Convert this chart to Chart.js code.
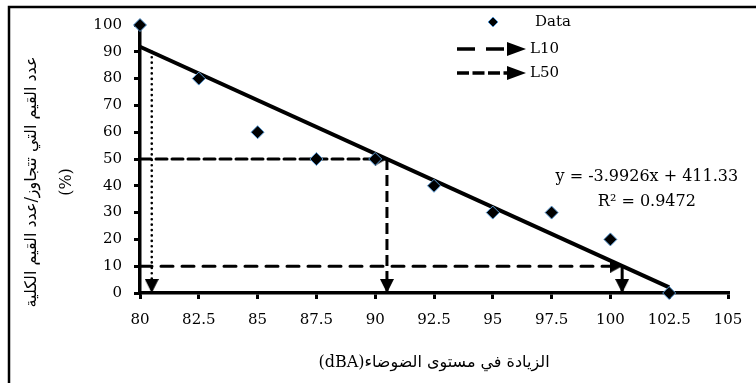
<!DOCTYPE html>
<html><head><meta charset="utf-8">
<script src="https://cdn.jsdelivr.net/npm/chart.js@4.4.1/dist/chart.umd.min.js"></script>
<style>html,body{margin:0;padding:0;background:#fff}#wrap{width:756px;height:383px;position:relative}</style>
</head><body><div id="wrap"><canvas id="c" width="756" height="383"></canvas></div>
<script>
// ---- data ----
const noiseLevels = [80, 82.5, 85, 87.5, 90, 92.5, 95, 97.5, 100, 102.5];
const exceedPercent = [100, 80, 60, 50, 50, 40, 30, 30, 20, 0];
const trendX = [80, 102.5];
const trendY = [91.9, 2.1];
const equationText = 'y = -3.9926x + 411.33';
const r2Text = 'R² = 0.9472';
const L90 = 80.5, L50 = 90.5, L10 = 100.5;
const levelY = { L90: 90, L50: 50, L10: 10 };
const xTickValues = [80, 82.5, 85, 87.5, 90, 92.5, 95, 97.5, 100, 102.5, 105];
const yTickValues = [0, 10, 20, 30, 40, 50, 60, 70, 80, 90, 100];
const seriesLabels = ['Data', 'L10', 'L50'];
const xTitleArabic = 'الزيادة في مستوى الضوضاء';
const xTitleUnit = '(dBA)';
const yTitle = ['عدد القيم التي تتجاوز/عدد القيم الكلية', '(%)'];

const FONT = "'DejaVu Serif', 'DejaVu Sans', serif";
const RTL = t => '\u202B' + t + '\u202C';
const LTR = t => '\u202A' + t + '\u202C';
const xTitle = RTL(xTitleArabic + LTR(xTitleUnit));

// arrow head image: tip at image centre, pointing right at rotation 0
function makeArrow(len, h) {
  const cv = document.createElement('canvas');
  cv.width = len * 2; cv.height = h;
  const g = cv.getContext('2d');
  g.fillStyle = '#000';
  g.beginPath(); g.moveTo(0, 0); g.lineTo(len, h / 2); g.lineTo(0, h); g.closePath(); g.fill();
  return cv;
}
const arrowR = makeArrow(12, 13);
const arrowD = makeArrow(14, 14);

function seg(x1, y1, x2, y2) { return [{x: x1, y: y1}, {x: x2, y: y2}]; }
function guide(label, data, dash, width, rot, arrowImg, cap) {
  return {
    type: 'line', label, data, showLine: true, clip: false,
    borderColor: '#000', borderWidth: width, borderDash: dash, borderCapStyle: cap || 'butt',
    pointRadius: [0, 7], pointHoverRadius: 0, pointStyle: arrowImg, rotation: [0, rot],
    backgroundColor: '#000', order: 3, fill: false, tension: 0
  };
}

const datasets = [
  { type: 'scatter', label: seriesLabels[0],
    data: noiseLevels.map((x, i) => ({x, y: exceedPercent[i]})),
    pointStyle: 'rectRot', pointRadius: 6.5, backgroundColor: '#000', borderColor: '#5b9bd5',
    borderWidth: 1, clip: false, order: 0 },
  { type: 'line', label: 'trend', data: trendX.map((x, i) => ({x, y: trendY[i]})),
    showLine: true, borderColor: '#000', borderWidth: 4, pointRadius: 0, clip: false, order: 1 },
  guide('L90', seg(L90, levelY.L90, L90, 0), [0.1, 5.3], 2.6, 90, arrowD, 'round'),
  guide(seriesLabels[2], seg(80, levelY.L50, L50, levelY.L50), [11, 5], 3, 0, arrowR, 'round'),
  guide('L50v', seg(L50, levelY.L50, L50, 0), [11, 5], 3, 90, arrowD, 'butt'),
  guide(seriesLabels[1], seg(80, levelY.L10, L10, levelY.L10), [12, 9], 3, 0, arrowR, 'round'),
  guide('L10v', seg(L10, levelY.L10, L10, 0), [], 3, 90, arrowD, 'butt')
];

const decor = {
  id: 'decor',
  afterDraw(chart) {
    const ctx = chart.ctx;
    const xs = chart.scales.x, ys = chart.scales.y;
    ctx.save();
    // outer frame
    ctx.strokeStyle = '#000'; ctx.lineWidth = 2.5;
    ctx.strokeRect(9, 7, 800, 420);
    // y title (two rotated lines)
    ctx.fillStyle = '#000';
    ctx.font = '16px ' + FONT;
    ctx.textAlign = 'center'; ctx.textBaseline = 'middle';
    const cy = 182;
    [[32, RTL(yTitle[0])], [67, yTitle[1]]].forEach(([x, t]) => {
      ctx.save(); ctx.translate(x, cy); ctx.rotate(-Math.PI / 2); ctx.fillText(t, 0, 0); ctx.restore();
    });
    // regression equation
    ctx.font = '16px ' + FONT;
    ctx.textAlign = 'center';
    ctx.fillText(equationText, xs.getPixelForValue(101.55), ys.getPixelForValue(43.3));
    ctx.fillText(r2Text, xs.getPixelForValue(101.55), ys.getPixelForValue(34));
    // legend
    ctx.font = '15px ' + FONT;
    ctx.textAlign = 'left';
    ctx.beginPath();
    const dx = 493, dy = 22, r = 5;
    ctx.moveTo(dx, dy - r); ctx.lineTo(dx + r, dy); ctx.lineTo(dx, dy + r); ctx.lineTo(dx - r, dy); ctx.closePath();
    ctx.fillStyle = '#000'; ctx.fill(); ctx.strokeStyle = '#5b9bd5'; ctx.lineWidth = 1; ctx.stroke();
    ctx.fillStyle = '#000';
    ctx.fillText(seriesLabels[0], 535, 22);
    ctx.strokeStyle = '#000'; ctx.lineWidth = 3.5; ctx.lineCap = 'butt';
    ctx.setLineDash([18, 11]);
    ctx.beginPath(); ctx.moveTo(457, 49); ctx.lineTo(508, 49); ctx.stroke();
    ctx.setLineDash([]);
    ctx.beginPath(); ctx.moveTo(507, 42); ctx.lineTo(526, 49); ctx.lineTo(507, 56); ctx.closePath(); ctx.fill();
    ctx.fillText(seriesLabels[1], 530, 49);
    ctx.setLineDash([12, 3.5]);
    ctx.beginPath(); ctx.moveTo(457, 73); ctx.lineTo(510, 73); ctx.stroke();
    ctx.setLineDash([]);
    ctx.beginPath(); ctx.moveTo(507, 66); ctx.lineTo(526, 73); ctx.lineTo(507, 80); ctx.closePath(); ctx.fill();
    ctx.fillText(seriesLabels[2], 530, 73);
    ctx.restore();
  }
};

new Chart(document.getElementById('c'), {
  type: 'scatter',
  data: { datasets },
  plugins: [decor],
  options: {
    responsive: false, animation: false, devicePixelRatio: 1,
    layout: { padding: { left: 0, top: 25, right: 28, bottom: 0 } },
    plugins: { legend: { display: false }, tooltip: { enabled: false } },
    scales: {
      x: {
        type: 'linear', min: 80, max: 105,
        afterBuildTicks: s => { s.ticks = xTickValues.map(v => ({value: v})); },
        afterFit: s => { s.height = 90; },
        ticks: { color: '#000', font: { family: FONT, size: 15 }, padding: 12, maxRotation: 0, autoSkip: false,
                 callback: v => String(v) },
        grid: { drawOnChartArea: false, drawTicks: true, tickLength: 6, lineWidth: 3, color: '#000' },
        border: { display: true, width: 3.5, color: '#000' },
        title: { display: true, text: xTitle, color: '#000', font: { family: FONT, size: 16 }, padding: { top: 0, bottom: 11 } }
      },
      y: {
        type: 'linear', min: 0, max: 100,
        afterBuildTicks: s => { s.ticks = yTickValues.map(v => ({value: v})); },
        afterFit: s => { s.width = 140; },
        ticks: { color: '#000', font: { family: FONT, size: 15 }, padding: 12, autoSkip: false,
                 callback: v => String(v) },
        grid: { drawOnChartArea: false, drawTicks: true, tickLength: 6, lineWidth: 3, color: '#000' },
        border: { display: true, width: 3.5, color: '#000' }
      }
    }
  }
});
</script>
</body></html>
